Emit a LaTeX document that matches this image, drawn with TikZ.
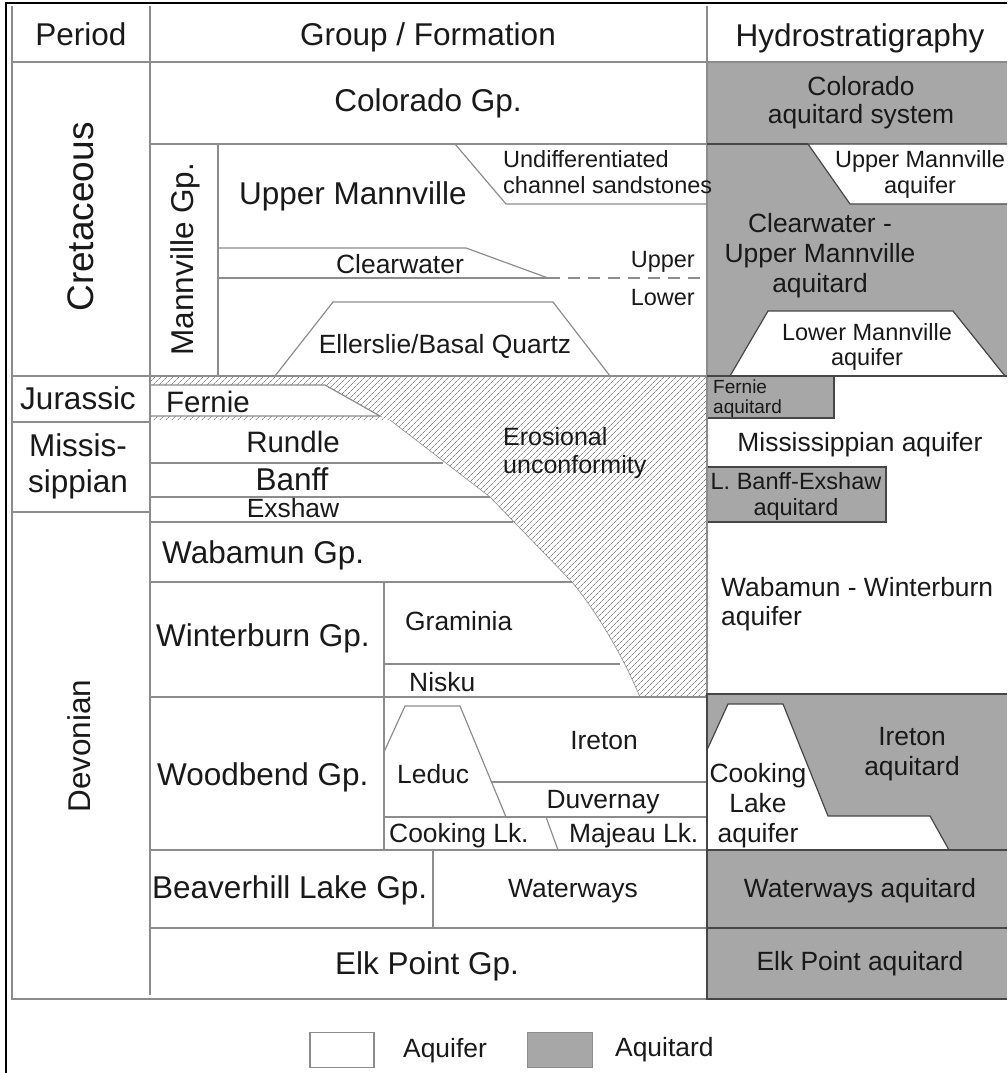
\documentclass[tikz,border=0pt]{standalone}
\usepackage{fontspec}
\setmainfont{Liberation Sans}
\usetikzlibrary{patterns.meta}
\definecolor{aquitard}{RGB}{167,167,167}
\definecolor{gridgray}{RGB}{140,140,140}
\definecolor{edgegray}{RGB}{70,70,70}
\definecolor{ink}{RGB}{25,25,25}
\tikzset{
  gridline/.style ={draw=gridgray, line width=1.2pt},
  tardedge/.style ={draw=edgegray, line width=1.2pt},
  tardline/.style ={draw=edgegray, line width=2.4pt},
  hatched/.style ={pattern={Lines[angle=45,distance=4pt,line width=0.7pt]}, pattern color=gridgray},
  label/.style ={text=ink, inner sep=0pt, align=center},
  cretext/.style ={label, font=\fontsize{37}{40}\selectfont},
  bigtext/.style ={label, font=\fontsize{31.5}{36}\selectfont},
  rowtext/.style ={label, font=\fontsize{29.5}{33}\selectfont},
  midtext/.style ={label, font=\fontsize{26.4}{30}\selectfont},
  erotext/.style ={label, font=\fontsize{25}{28}\selectfont},
  smalltext/.style ={label, font=\fontsize{23.5}{26}\selectfont},
  tinytext/.style ={label, font=\fontsize{19}{20}\selectfont}
}

\begin{document}
\begin{tikzpicture}[x=1pt,y=-1pt]
  \useasboundingbox (0,0) rectangle (1007,1073);

  % hydrostratigraphy fills
  \fill[aquitard] (707,62) rectangle (1007,376);
  \fill[aquitard] (707,694) rectangle (1007,999);
  \filldraw[tardedge, fill=white] (1007,144) -- (808,144) -- (850,204) -- (1007,204);
  \filldraw[tardedge, fill=white] (730,376) -- (768,311) -- (953,311) -- (1005,376);
  \filldraw[tardedge, fill=white] (707,750) -- (728,704) -- (783,704) -- (828,816) -- (930,816) -- (949,850) -- (707,850);
  \filldraw[tardedge, fill=aquitard] (707,376) rectangle (834,418);
  \filldraw[tardedge, fill=aquitard] (707,467) rectangle (886,522);

  % erosional unconformity
  \fill[hatched] (150,376) -- (707,376) -- (707,697) -- (640,697)
    .. controls (620,650) and (595,610) .. (572,582) -- (490,497) -- (390,420) -- (150,420) -- cycle;
  \filldraw[gridline, fill=white] (150,385) -- (325,385) -- (380,416) -- (150,416);
  \draw[gridline, line width=0.6pt] (390,420) -- (490,497) -- (572,582)
    .. controls (595,610) and (620,650) .. (640,697);

  % table
  \draw[gridline] (12,6) -- (12,999) -- (707,999);
  \draw[gridline] (150,6) -- (150,995);
  \draw[gridline] (707,6) -- (707,694);
  \draw[gridline] (12,62) -- (1007,62);
  \draw[gridline] (12,376) -- (150,376);
  \draw[gridline] (12,422) -- (150,422);
  \draw[gridline] (12,512) -- (150,512);
  \draw[gridline] (150,144) -- (707,144);
  \draw[tardedge] (707,144) -- (808,144);
  \draw[gridline] (218,144) -- (218,376);
  \draw[gridline] (455,144) -- (506,204) -- (707,204);
  \draw[gridline] (218,248) -- (466,248) -- (548,278);
  \draw[gridline] (218,278) -- (548,278);
  \draw[gridline, dashed, dash pattern=on 12pt off 8pt] (548,278) -- (707,278);
  \draw[gridline] (275,376) -- (333,302) -- (553,302) -- (610,376);
  \draw[gridline] (150,376) -- (707,376);
  \draw[tardedge] (707,376) -- (1007,376);
  \draw[gridline] (150,463) -- (443,463);
  \draw[gridline] (150,497) -- (490,497);
  \draw[gridline] (150,522) -- (513,522);
  \draw[gridline] (150,582) -- (572,582);
  \draw[gridline] (384,664) -- (620,664);
  \draw[gridline] (150,697) -- (707,697);
  \draw[gridline] (384,582) -- (384,850);
  \draw[gridline] (384,752) -- (405,706) -- (460,706) -- (506,817);
  \draw[gridline] (491,782) -- (707,782);
  \draw[gridline] (384,817) -- (707,817);
  \draw[gridline] (546,817) -- (558,850);
  \draw[gridline] (150,850) -- (707,850);
  \draw[gridline] (433,850) -- (433,928);
  \draw[gridline] (150,928) -- (707,928);
  \draw[tardedge] (707,928) -- (1007,928);
  \draw[tardline] (1007,694) -- (707,694) -- (707,999) -- (1007,999);
  \draw[tardline] (707,850) -- (1007,850);

  % frame
  \draw[line width=2.6pt] (6,1073) -- (6,3) -- (1007,3);

  % headers
  \node[bigtext, anchor=base] (period) at (81,46) {Period};
  \node[bigtext, anchor=base] (groupform) at (428,46) {Group / Formation};
  \node[bigtext, anchor=base] (hydrostrat) at (860,47) {Hydrostratigraphy};

  % periods
  \node[cretext, rotate=90, anchor=base] (cretaceous) at (93,217) {Cretaceous};
  \node[bigtext, anchor=base] (jurassic) at (78,409) {Jurassic};
  \node[bigtext, anchor=base] (mississippian) at (78,492) {Missis-\\sippian};
  \node[bigtext, rotate=90, anchor=base] (devonian) at (90,746) {Devonian};

  % groups and formations
  \node[bigtext, anchor=base] (colorado) at (428,111) {Colorado Gp.};
  \node[bigtext, rotate=90, anchor=base] (mannville) at (193,259) {Mannville Gp.};
  \node[bigtext, anchor=base] (uppermann) at (353,204) {Upper Mannville};
  \node[smalltext, anchor=base west, align=left] (sandstones) at (503,193) {Undifferentiated\\channel sandstones};
  \node[midtext, anchor=base] (clearwater) at (400,273) {Clearwater};
  \node[smalltext, anchor=base east] (upper) at (695,267) {Upper};
  \node[smalltext, anchor=base east] (lower) at (695,305) {Lower};
  \node[midtext, anchor=base] (ellerslie) at (445,353) {Ellerslie/Basal Quartz};
  \node[rowtext, anchor=base west] (fernie) at (166,412) {Fernie};
  \node[erotext, anchor=base west, align=left] (erosion) at (503,473) {Erosional\\unconformity};
  \node[rowtext, anchor=base] (rundle) at (293,452) {Rundle};
  \node[bigtext, anchor=base] (banff) at (292,490) {Banff};
  \node[midtext, anchor=base] (exshaw) at (293,517) {Exshaw};
  \node[bigtext, anchor=base west] (wabamun) at (162,563) {Wabamun Gp.};
  \node[bigtext, anchor=base west] (winterburn) at (156,646) {Winterburn Gp.};
  \node[midtext, anchor=base west] (graminia) at (405,630) {Graminia};
  \node[midtext, anchor=base west] (nisku) at (409,691) {Nisku};
  \node[bigtext, anchor=base west] (woodbend) at (157,785) {Woodbend Gp.};
  \node[midtext, anchor=base west] (leduc) at (397,783) {Leduc};
  \node[midtext, anchor=base] (ireton) at (604,749) {Ireton};
  \node[midtext, anchor=base] (duvernay) at (603,808) {Duvernay};
  \node[midtext, anchor=base west] (cookinglk) at (389,842) {Cooking Lk.};
  \node[midtext, anchor=base west] (majeau) at (569,842) {Majeau Lk.};
  \node[bigtext, anchor=base west] (beaverhill) at (152,898) {Beaverhill Lake Gp.};
  \node[midtext, anchor=base west] (waterways) at (508,897) {Waterways};
  \node[bigtext, anchor=base] (elkpoint) at (427,974) {Elk Point Gp.};

  % hydrostratigraphic units
  \node[midtext, anchor=base, font=\fontsize{26.4}{28}\selectfont] (coloradotard) at (861,123) {Colorado\\aquitard system};
  \node[smalltext, anchor=base] (umaquifer) at (920,193) {Upper Mannville\\aquifer};
  \node[midtext, anchor=base] (clearwatertard) at (820,292) {Clearwater -\\Upper Mannville\\aquitard};
  \node[smalltext, anchor=base, font=\fontsize{23.5}{25}\selectfont] (lmaquifer) at (867,365) {Lower Mannville\\aquifer};
  \node[tinytext, anchor=base west, align=left] (fernietard) at (713,413) {Fernie\\aquitard};
  \node[midtext, anchor=base] (missaquifer) at (860,451) {Mississippian aquifer};
  \node[smalltext, anchor=base] (banfftard) at (796,515) {L. Banff-Exshaw\\aquitard};
  \node[midtext, anchor=base west, align=left, font=\fontsize{26.4}{29}\selectfont] (wwaquifer) at (721,625) {Wabamun - Winterburn\\aquifer};
  \node[midtext, anchor=base] (iretontard) at (912,775) {Ireton\\aquitard};
  \node[midtext, anchor=base] (cookaquifer) at (758,842) {Cooking\\Lake\\aquifer};
  \node[midtext, anchor=base] (waterwaystard) at (860,897) {Waterways aquitard};
  \node[midtext, anchor=base] (elktard) at (860,970) {Elk Point aquitard};

  % legend
  \node[draw=gridgray, line width=1.2pt, fill=white, minimum width=64pt, minimum height=35pt] (aquiferbox) at (342,1050) {};
  \node[midtext, anchor=base west] (aquiferkey) at (403,1057) {Aquifer};
  \node[draw=gridgray, line width=1.2pt, fill=aquitard, minimum width=65pt, minimum height=35pt] (aquitardbox) at (560,1050) {};
  \node[midtext, anchor=base west] (aquitardkey) at (615,1056) {Aquitard};
\end{tikzpicture}
\end{document}
